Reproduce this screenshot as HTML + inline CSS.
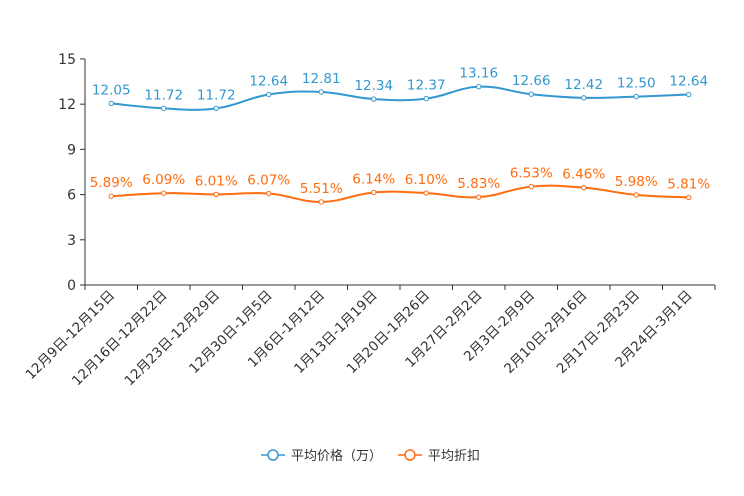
<!DOCTYPE html><html><head><meta charset="utf-8"><style>body{margin:0;background:#fff}svg{display:block}text{font-family:"DejaVu Sans","Noto Sans CJK SC",sans-serif}</style></head><body>
<svg id="s" width="744" height="496" xmlns="http://www.w3.org/2000/svg"></svg>
<script>
const s=document.getElementById('s');let h='';
const X0=85,X1=715,Y0=285,K=15.07,bw=52.5;
const cats=["12月9日-12月15日","12月16日-12月22日","12月23日-12月29日","12月30日-1月5日","1月6日-1月12日","1月13日-1月19日","1月20日-1月26日","1月27日-2月2日","2月3日-2月9日","2月10日-2月16日","2月17日-2月23日","2月24日-3月1日"];
const A=[12.05,11.72,11.72,12.64,12.81,12.34,12.37,13.16,12.66,12.42,12.50,12.64];
const B=[5.89,6.09,6.01,6.07,5.51,6.14,6.10,5.83,6.53,6.46,5.98,5.81];
h+=`<line x1="${X0}" y1="59" x2="${X0}" y2="${Y0}" stroke="#333"/><line x1="${X0}" y1="${Y0}" x2="${X1}" y2="${Y0}" stroke="#333"/>`;
for(let v=0;v<=15;v+=3){const y=Y0-v*K;h+=`<line x1="80" y1="${y}" x2="${X0}" y2="${y}" stroke="#333"/><text x="76" y="${y+5}" font-size="14" fill="#333" text-anchor="end">${v}</text>`;}
for(let i=0;i<=12;i++){const x=X0+i*bw;h+=`<line x1="${x}" y1="${Y0}" x2="${x}" y2="${Y0+5}" stroke="#333"/>`;}
cats.forEach((c,i)=>{const x=X0+bw*(i+0.5)+4;h+=`<text transform="translate(${x},296) rotate(-45)" font-size="13.5" fill="#333" text-anchor="end">${c}</text>`});
function ser(d,col){const p=d.map((v,i)=>[X0+bw*(i+0.5),Y0-v*K]);let path=`M${p[0]}`;
for(let i=0;i<p.length-1;i++){const a=p[Math.max(i-1,0)],b=p[i],c=p[i+1],e=p[Math.min(i+2,p.length-1)];const t=0.2;
path+=` C${b[0]+(c[0]-a[0])*t},${b[1]+(c[1]-a[1])*t} ${c[0]-(e[0]-b[0])*t},${c[1]-(e[1]-b[1])*t} ${c[0]},${c[1]}`;}
h+=`<path d="${path}" fill="none" stroke="${col}" stroke-width="2"/>`;
p.forEach((q,i)=>{h+=`<circle cx="${q[0]}" cy="${q[1]}" r="2.2" fill="#fff" stroke="${col}" stroke-width="1"/><text x="${q[0]}" y="${q[1]-9}" font-size="13.5" fill="${col}" text-anchor="middle">${d[i].toFixed(2)}${col==B_C?'%':''}</text>`});}
const A_C="#3398cf",B_C="#ff6d10";ser(A,A_C);ser(B,B_C);
h+=`<line x1="261" y1="455" x2="285" y2="455" stroke="${A_C}" stroke-width="1.5"/><circle cx="273" cy="455" r="5" fill="#fff" stroke="${A_C}" stroke-width="1.5"/><text x="291" y="460" font-size="13" fill="#333">平均价格（万）</text>`;
h+=`<line x1="398" y1="455" x2="422" y2="455" stroke="${B_C}" stroke-width="1.5"/><circle cx="410" cy="455" r="5" fill="#fff" stroke="${B_C}" stroke-width="1.5"/><text x="428" y="460" font-size="13" fill="#333">平均折扣</text>`;
s.innerHTML=h;
</script></body></html>
